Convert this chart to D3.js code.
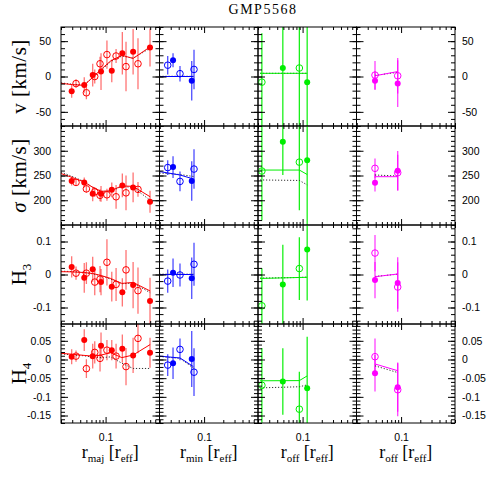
<!DOCTYPE html>
<html><head><meta charset="utf-8">
<script src="https://cdn.jsdelivr.net/npm/d3@7"></script>
<style>body{margin:0;background:#fff}svg{display:block}</style>
</head><body>
<svg id="c" width="491" height="491"></svg>
<script>
// ---------- DATA ----------
const xDomain = [0.02, 0.7];
const xMinorTicks = [0.02,0.03,0.04,0.05,0.06,0.07,0.08,0.09,0.2,0.3,0.4,0.5,0.6,0.7];
const xMajorTicks = [0.1];
const vTicks = [-50, 0, 50];
const sTicks = [200, 250, 300];
const h3Ticks = [-0.1, 0, 0.1];
const h4Ticks = [-0.15, -0.1, -0.05, 0, 0.05];

// column 1: major axis
const xMajF = [0.0294, 0.0463, 0.0628, 0.0848, 0.125, 0.183, 0.270, 0.497];
const xMajO = [0.0344, 0.050, 0.0676, 0.0818, 0.105, 0.146, 0.209, 0.322];
const vMajF = [-21, -12, 2, 7, 8, 33, 35, 41];
const vMajFe = [9, 11, 16, 26, 16, 30, 32, 27];
const vMajO = [-10, -23, 0, 18, 31, 29, 14, 18];
const vMajOe = [6, 9, 10, 10, 20, 10, 35, 36];
const sMajF = [239, 236, 213, 213, 221, 230, 226, 197];
const sMajFe = [9, 10, 15, 16, 15, 24, 30, 22];
const sMajO = [236, 223, 217, 210, 211, 207, 215, 222];
const sMajOe = [5, 8, 10, 12, 12, 24, 35, 15];
const h3MajF = [0.023, -0.010, 0.016, -0.023, -0.037, -0.054, -0.032, -0.080];
const h3MajFe = [0.032, 0.045, 0.038, 0.04, 0.045, 0.043, 0.07, 0.07];
const h3MajO = [0.004, 0.004, -0.023, -0.014, 0.037, -0.030, 0.014, -0.049];
const h3MajOe = [0.02, 0.033, 0.04, 0.04, 0.07, 0.05, 0.06, 0.07];
const h4MajF = [0.0075, 0.052, 0.009, 0.037, 0.025, 0.029, 0.011, 0.018];
const h4MajFe = [0.02, 0.029, 0.033, 0.035, 0.027, 0.038, 0.047, 0.04];
const h4MajO = [0.009, -0.0245, 0.019, 0.003, 0.025, 0.009, -0.019, 0.0565];
const h4MajOe = [0.015, 0.025, 0.03, 0.035, 0.027, 0.033, 0.05, 0.04];
const mxMaj = [0.02, 0.03, 0.046, 0.063, 0.085, 0.12, 0.18, 0.27, 0.5];
const vMajSol = [-9.6, -11.5, -12.5, -1, 10, 22, 30, 25.5, 42];
const vMajDot = [-9, -11, -12, -1.5, 9, 21, 29, 26, 40];
const sMajSol = [254, 246, 237, 226, 218, 219, 229, 228, 207];
const sMajDot = [257, 248, 238, 226, 218, 218, 228, 226, 200];
const h3MajSol = [0.0085, 0.008, 0.006, 0.003, -0.003, -0.012, -0.027, -0.024, -0.05];
const h3MajDot = [0.01, 0.009, 0.006, 0.002, -0.004, -0.014, -0.028, -0.026, -0.055];
const h4MajSol = [0.0165, 0.014, 0.011, 0.009, 0.012, 0.018, 0.005, 0.012, 0.04];
const h4MajDot = [0.015, 0.012, 0.01, 0.006, 0.005, 0.007, -0.01, -0.024, -0.024];

// column 2: minor axis
const xMinF = [0.0326, 0.064];
const xMinO = [0.0269, 0.0419, 0.0695];
const vMinF = [23, -6], vMinFe = [10, 28];
const vMinO = [16, 4, 10], vMinOe = [13, 11, 28];
const sMinF = [267, 239], sMinFe = [22, 40];
const sMinO = [266, 238, 263], sMinOe = [15, 20, 40];
const h3MinF = [0.0055, -0.0115], h3MinFe = [0.043, 0.063];
const h3MinO = [-0.020, -0.0015, 0.031], h3MinOe = [0.035, 0.035, 0.065];
const h4MinF = [-0.010, 0.0013], h4MinFe = [0.042, 0.075];
const h4MinO = [-0.015, 0.027, -0.034], h4MinOe = [0.029, 0.029, 0.064];
const mxMin = [0.02, 0.042, 0.068];
const vMinSol = [0, 0, 0], vMinDot = [0.3, 0.3, 0.3];
const sMinSol = [258, 251, 243], sMinDot = [255, 252, 248];
const h3MinSol = [0, 0, 0], h3MinDot = [0.001, 0.001, 0.001];
const h4MinSol = [0.009, 0.004, -0.019], h4MinDot = [0.008, 0.003, -0.023];

// column 3: offset axis A
const xOffAF = [0.049, 0.118];
const xOffAO = [0.023, 0.089];
const vOffAF = [12, -8], vOffAFe = [85, 85];
const vOffAO = [-8, 12], vOffAOe = [69, 85];
const sOffAF = [318, 281], sOffAFe = [67, 140];
const sOffAO = [259, 277], sOffAOe = [100, 97];
const h3OffAF = [-0.030, 0.076], h3OffAFe = [0.12, 0.155];
const h3OffAO = [-0.095, 0.018], h3OffAOe = [0.114, 0.095];
const h4OffAF = [-0.059, -0.077], h4OffAFe = [0.089, 0.138];
const h4OffAO = [-0.069, -0.133], h4OffAOe = [0.1, 0.1];
const mxOffA = [0.0215, 0.089, 0.118];
const vOffASol = [4.5, 4.5, 4.5], vOffADot = [4.5, 4.5, 4.5];
const sOffASol = [261, 261, 252], sOffADot = [241, 240, 231];
const h3OffASol = [-0.012, -0.009, -0.0085], h3OffADot = [-0.011, -0.009, -0.008];
const h4OffASol = [-0.057, -0.0565, -0.044], h4OffADot = [-0.076, -0.073, -0.068];

// column 4: offset axis B
const xOffBF = [0.039, 0.0885];
const xOffBO = [0.039, 0.0885];
const vOffBF = [-6, -10], vOffBFe = [13, 33];
const vOffBO = [2, 1], vOffBOe = [20, 25];
const sOffBF = [235.5, 259.7], sOffBFe = [18, 40];
const sOffBO = [264.5, 255.7], sOffBOe = [20, 36];
const h3OffBF = [-0.017, -0.026], h3OffBFe = [0.055, 0.078];
const h3OffBO = [0.065, -0.038], h3OffBOe = [0.055, 0.075];
const h4OffBF = [-0.037, -0.074], h4OffBFe = [0.049, 0.066];
const h4OffBO = [0.0075, -0.081], h4OffBOe = [0.049, 0.071];
const mxOffB = [0.039, 0.0885];
const vOffBSol = [1, 7], vOffBDot = [1.5, 6];
const sOffBSol = [247.6, 247.6], sOffBDot = [251, 249];
const h3OffBSol = [-0.0067, 0.0015], h3OffBDot = [-0.006, 0.001];
const h4OffBSol = [-0.012, -0.030], h4OffBDot = [-0.017, -0.035];

// ---------- LAYOUT ----------
const X0 = 61, Y0 = 27, PW = 98.5, PH = 99;
const colDefs = [
  {xF: xMajF, xO: xMajO, mx: mxMaj, color: '#ff0000', barOp: 0.55, sub: 'maj'},
  {xF: xMinF, xO: xMinO, mx: mxMin, color: '#0000ff', barOp: 0.7, sub: 'min'},
  {xF: xOffAF, xO: xOffAO, mx: mxOffA, color: '#00ee00', barOp: 0.9, sub: 'off'},
  {xF: xOffBF, xO: xOffBO, mx: mxOffB, color: '#ff00ff', barOp: 0.75, sub: 'off'}
];
const rowDefs = [
  {domain: [-70, 70], ticks: vTicks, step: 10},
  {domain: [150, 350], ticks: sTicks, step: 10},
  {domain: [-0.15, 0.15], ticks: h3Ticks, step: 0.02},
  {domain: [-0.17, 0.095], ticks: h4Ticks, step: 0.01}
];
const panelData = [
  [
    {f: vMajF, fe: vMajFe, o: vMajO, oe: vMajOe, sol: vMajSol, dot: vMajDot},
    {f: sMajF, fe: sMajFe, o: sMajO, oe: sMajOe, sol: sMajSol, dot: sMajDot},
    {f: h3MajF, fe: h3MajFe, o: h3MajO, oe: h3MajOe, sol: h3MajSol, dot: h3MajDot},
    {f: h4MajF, fe: h4MajFe, o: h4MajO, oe: h4MajOe, sol: h4MajSol, dot: h4MajDot}
  ],
  [
    {f: vMinF, fe: vMinFe, o: vMinO, oe: vMinOe, sol: vMinSol, dot: vMinDot},
    {f: sMinF, fe: sMinFe, o: sMinO, oe: sMinOe, sol: sMinSol, dot: sMinDot},
    {f: h3MinF, fe: h3MinFe, o: h3MinO, oe: h3MinOe, sol: h3MinSol, dot: h3MinDot},
    {f: h4MinF, fe: h4MinFe, o: h4MinO, oe: h4MinOe, sol: h4MinSol, dot: h4MinDot}
  ],
  [
    {f: vOffAF, fe: vOffAFe, o: vOffAO, oe: vOffAOe, sol: vOffASol, dot: vOffADot},
    {f: sOffAF, fe: sOffAFe, o: sOffAO, oe: sOffAOe, sol: sOffASol, dot: sOffADot},
    {f: h3OffAF, fe: h3OffAFe, o: h3OffAO, oe: h3OffAOe, sol: h3OffASol, dot: h3OffADot},
    {f: h4OffAF, fe: h4OffAFe, o: h4OffAO, oe: h4OffAOe, sol: h4OffASol, dot: h4OffADot}
  ],
  [
    {f: vOffBF, fe: vOffBFe, o: vOffBO, oe: vOffBOe, sol: vOffBSol, dot: vOffBDot},
    {f: sOffBF, fe: sOffBFe, o: sOffBO, oe: sOffBOe, sol: sOffBSol, dot: sOffBDot},
    {f: h3OffBF, fe: h3OffBFe, o: h3OffBO, oe: h3OffBOe, sol: h3OffBSol, dot: h3OffBDot},
    {f: h4OffBF, fe: h4OffBFe, o: h4OffBO, oe: h4OffBOe, sol: h4OffBSol, dot: h4OffBDot}
  ]
];

const svg = d3.select('#c');
const defs = svg.append('defs');
const SANS = 'Liberation Sans, Arial, sans-serif';
const SERIF = 'Liberation Serif, Times New Roman, serif';

function minorVals(dom, step) {
  const out = [];
  const n0 = Math.ceil(dom[0] / step - 1e-9), n1 = Math.floor(dom[1] / step + 1e-9);
  for (let n = n0; n <= n1; n++) out.push(+(n * step).toFixed(6));
  return out;
}
function styleAxis(g) {
  g.select('.domain').remove();
  g.selectAll('line').attr('stroke', '#000').attr('stroke-width', 1);
  g.selectAll('text').attr('font-family', SANS).attr('font-size', 10.5).attr('fill', '#000');
}

colDefs.forEach((cd, ci) => {
  const x = d3.scaleLog().domain(xDomain).range([0, PW]);
  rowDefs.forEach((rd, ri) => {
    const y = d3.scaleLinear().domain(rd.domain).range([PH, 0]);
    const g = svg.append('g').attr('transform', `translate(${X0 + ci * PW},${Y0 + ri * PH})`);
    const id = `clip${ci}${ri}`;
    defs.append('clipPath').attr('id', id).append('rect').attr('width', PW).attr('height', PH);
    const pd = panelData[ci][ri];
    const marks = g.append('g').attr('clip-path', `url(#${id})`);

    const fPts = cd.xF.map((xv, i) => ({x: xv, v: pd.f[i], e: pd.fe[i]}));
    const oPts = cd.xO.map((xv, i) => ({x: xv, v: pd.o[i], e: pd.oe[i]}));
    const allPts = fPts.concat(oPts);

    marks.selectAll('line.err').data(allPts).join('line')
      .attr('class', 'err')
      .attr('x1', d => x(d.x)).attr('x2', d => x(d.x))
      .attr('y1', d => y(d.v - d.e)).attr('y2', d => y(d.v + d.e))
      .attr('stroke', cd.color).attr('stroke-opacity', cd.barOp).attr('stroke-width', 1.3);

    const mline = cd.mx.map((xv, i) => [xv, i]);
    const lineSol = d3.line().x(d => x(d[0])).y(d => y(pd.sol[d[1]]));
    const lineDot = d3.line().x(d => x(d[0])).y(d => y(pd.dot[d[1]]));
    marks.append('path').attr('d', lineDot(mline)).attr('fill', 'none')
      .attr('stroke', '#333').attr('stroke-width', 1).attr('stroke-dasharray', '1.2,1.8');
    marks.append('path').attr('d', lineSol(mline)).attr('fill', 'none')
      .attr('stroke', cd.color).attr('stroke-width', 1);

    marks.selectAll('circle.o').data(oPts).join('circle')
      .attr('class', 'o').attr('cx', d => x(d.x)).attr('cy', d => y(d.v)).attr('r', 3.3)
      .attr('fill', 'none').attr('stroke', cd.color).attr('stroke-width', 1);
    marks.selectAll('circle.f').data(fPts).join('circle')
      .attr('class', 'f').attr('cx', d => x(d.x)).attr('cy', d => y(d.v)).attr('r', 3)
      .attr('fill', cd.color);

    // ticks (inward) via d3 axes
    const yMinor = minorVals(rd.domain, rd.step);
    const bx = g.append('g').attr('transform', `translate(0,${PH})`);
    bx.append('g').call(d3.axisBottom(x).tickValues(xMinorTicks).tickSize(-3).tickFormat('')).call(styleAxis);
    bx.append('g').call(d3.axisBottom(x).tickValues(xMajorTicks).tickSize(-6).tickPadding(11)
      .tickFormat(ri === 3 ? d3.format('.1f') : '')).call(styleAxis);
    const tx = g.append('g');
    tx.append('g').call(d3.axisTop(x).tickValues(xMinorTicks).tickSize(-3).tickFormat('')).call(styleAxis);
    tx.append('g').call(d3.axisTop(x).tickValues(xMajorTicks).tickSize(-6).tickFormat('')).call(styleAxis);
    const ly = g.append('g');
    ly.append('g').call(d3.axisLeft(y).tickValues(yMinor).tickSize(-4).tickFormat('')).call(styleAxis);
    ly.append('g').call(d3.axisLeft(y).tickValues(rd.ticks).tickSize(-7).tickPadding(10)
      .tickFormat(ci === 0 ? (d => String(d)) : '')).call(styleAxis);
    const ry = g.append('g').attr('transform', `translate(${PW},0)`);
    ry.append('g').call(d3.axisRight(y).tickValues(yMinor).tickSize(-4).tickFormat('')).call(styleAxis);
    ry.append('g').call(d3.axisRight(y).tickValues(rd.ticks).tickSize(-7).tickPadding(7)
      .tickFormat(ci === 3 ? (d => String(d)) : '')).call(styleAxis);

    g.append('rect').attr('width', PW).attr('height', PH)
      .attr('fill', 'none').attr('stroke', '#000').attr('stroke-width', 1);
  });
});

// title
svg.append('text').attr('x', 263).attr('y', 14).attr('text-anchor', 'middle')
  .attr('font-family', SERIF).attr('font-size', 14).attr('letter-spacing', 1.5).text('GMP5568');

// y titles
const yTitles = [
  [{t: 'v'}, {t: ' [km/s]'}],
  [{t: 'σ', it: true}, {t: ' [km/s]'}],
  [{t: 'H'}, {t: '3', sub: true}],
  [{t: 'H'}, {t: '4', sub: true}]
];
yTitles.forEach((parts, ri) => {
  const cy = Y0 + ri * PH + PH / 2;
  const t = svg.append('text').attr('transform', `translate(26,${cy}) rotate(-90)`)
    .attr('text-anchor', 'middle').attr('font-family', SERIF).attr('font-size', 21)
    .attr('letter-spacing', ri < 2 ? 0.5 : 0);
  parts.forEach(p => {
    const ts = t.append('tspan').text(p.t);
    if (p.it) ts.attr('font-style', 'italic');
    if (p.sub) ts.attr('font-size', 13).attr('dy', 5);
  });
});

// x titles
colDefs.forEach((cd, ci) => {
  const cx = X0 + ci * PW + PW / 2;
  const t = svg.append('text').attr('x', cx).attr('y', 458).attr('text-anchor', 'middle')
    .attr('font-family', SERIF).attr('font-size', 18);
  t.append('tspan').text('r');
  t.append('tspan').attr('font-size', 11).attr('dy', 4).text(cd.sub);
  t.append('tspan').attr('dy', -4).text(' [r');
  t.append('tspan').attr('font-size', 11).attr('dy', 4).text('eff');
  t.append('tspan').attr('dy', -4).text(']');
});
</script>
</body></html>
